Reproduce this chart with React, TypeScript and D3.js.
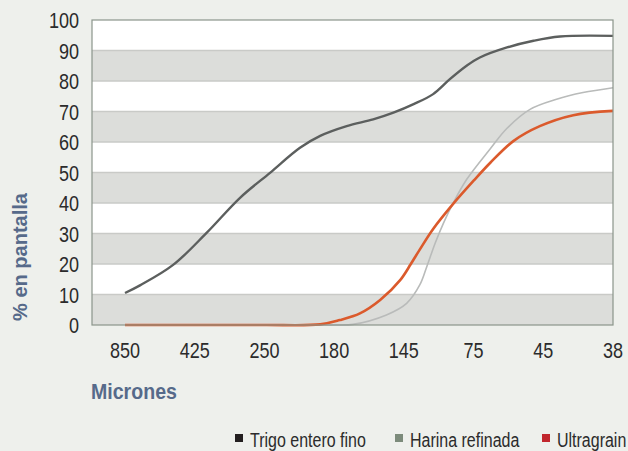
import React from "react";
import * as d3 from "d3";

const xLabels = ["850", "425", "250", "180", "145", "75", "45", "38"];
const yTicks = [0, 10, 20, 30, 40, 50, 60, 70, 80, 90, 100];

// x positions are fractional category indexes (0 = 850 ... 7 = 38)
const trigoX = [0, 0.215, 0.69, 1.17, 1.65, 2.08, 2.51, 2.8, 3.18, 3.56, 3.85, 4.14, 4.42, 4.66, 4.9, 5.09, 5.48, 5.86, 6.24, 7];
const trigoY = [10.5, 13, 19.7, 30.2, 41.7, 49.9, 58.1, 62, 65.2, 67.4, 69.6, 72.4, 75.7, 80.6, 85, 87.7, 91, 93.2, 94.6, 94.8];

const harinaX = [0, 1, 2, 3, 3.27, 3.75, 4.04, 4.23, 4.33, 4.45, 4.57, 4.71, 4.9, 5.24, 5.48, 5.81, 6.19, 6.57, 7];
const harinaY = [0, 0, 0, 0, 0.2, 3.3, 7.1, 13.2, 19.2, 26.9, 33.5, 40.1, 47.7, 57.8, 64.5, 70.7, 74, 76.2, 77.8];

const ultraX = [0, 1, 2, 2.8, 3.08, 3.37, 3.66, 3.95, 4.1, 4.23, 4.42, 4.71, 5.0, 5.24, 5.57, 5.95, 6.43, 7];
const ultraY = [0, 0, 0, 0.2, 1.6, 3.8, 8.2, 14.8, 20.0, 24.8, 31.5, 39.8, 47.3, 53.2, 60.3, 65.2, 68.8, 70.2];

const legendNames = ["Trigo entero fino", "Harina refinada", "Ultragrain"];
const legendColors = ["#231f20", "#7c8b7b", "#c1272d"];

const W = 628;
const H = 451;
const L = 92;
const R = 613;
const T = 20;
const B = 325;

const FONT = "'Liberation Sans', Arial, sans-serif";

function NText(props: {
  x: number;
  y: number;
  sx?: number;
  size: number;
  anchor?: string;
  bold?: boolean;
  fill?: string;
  children: React.ReactNode;
}) {
  const { x, y, sx = 0.82, size, anchor = "start", bold, fill = "#2b2b2b", children } = props;
  return (
    <text
      transform={`translate(${x},${y}) scale(${sx},1)`}
      textAnchor={anchor}
      fontFamily={FONT}
      fontSize={size}
      fontWeight={bold ? "bold" : "normal"}
      fill={fill}
    >
      {children}
    </text>
  );
}

export default function App() {
  const x = d3.scaleLinear().domain([0, 7]).range([125, R]);
  const y = d3.scaleLinear().domain([0, 100]).range([B, T]);

  const line = d3
    .line<[number, number]>()
    .x((d) => x(d[0]))
    .y((d) => y(Math.max(0, d[1])))
    .curve(d3.curveCatmullRom.alpha(0.5));

  const zip = (a: number[], b: number[]) => a.map((v, i) => [v, b[i]] as [number, number]);

  const bands = d3.range(0, 10);
  const legendX = [235, 395, 542];

  return (
    <svg
      width={W}
      height={H}
      style={{ position: "absolute", left: 0, top: 0, background: "#eef0ec" }}
    >
      <rect x={0} y={0} width={W} height={H} fill="#eef0ec" />
      {bands.map((i) => (
        <rect
          key={"b" + i}
          x={L}
          y={y((i + 1) * 10)}
          width={R - L}
          height={y(i * 10) - y((i + 1) * 10)}
          fill={i % 2 === 0 ? "#dcddda" : "#ffffff"}
        />
      ))}
      {yTicks.slice(1, -1).map((t) => (
        <line key={"g" + t} x1={L} x2={R} y1={y(t)} y2={y(t)} stroke="#c9cac7" strokeWidth={1.5} />
      ))}

      <path d={line(zip(harinaX, harinaY)) || ""} fill="none" stroke="#b9bbba" strokeWidth={1.6} />
      <path d={line(zip(ultraX, ultraY)) || ""} fill="none" stroke="#db5a2c" strokeWidth={2.6} />
      <path d={line(zip(trigoX, trigoY)) || ""} fill="none" stroke="#5c5f5e" strokeWidth={2.4} />

      <rect x={L} y={T} width={R - L} height={B - T} fill="none" stroke="#8b958b" strokeWidth={1.2} />

      {yTicks.map((t) => (
        <NText key={"y" + t} x={79} y={y(t) + 8} size={22} anchor="end">
          {t}
        </NText>
      ))}
      {xLabels.map((l, i) => (
        <NText key={"x" + l} x={x(i)} y={358} size={22} anchor="middle">
          {l}
        </NText>
      ))}
      <NText x={91} y={399} size={22} sx={0.89} bold fill="#566a8a">
        Micrones
      </NText>
      <text
        transform="translate(27,257) rotate(-90)"
        textAnchor="middle"
        fontFamily={FONT}
        fontWeight="bold"
        fontSize={20}
        fill="#566a8a"
      >
        % en pantalla
      </text>

      {legendNames.map((n, i) => (
        <g key={n}>
          <rect x={legendX[i]} y={434} width={8} height={8} fill={legendColors[i]} />
          <NText x={legendX[i] + 15} y={447} size={19.5}>
            {n}
          </NText>
        </g>
      ))}
    </svg>
  );
}
